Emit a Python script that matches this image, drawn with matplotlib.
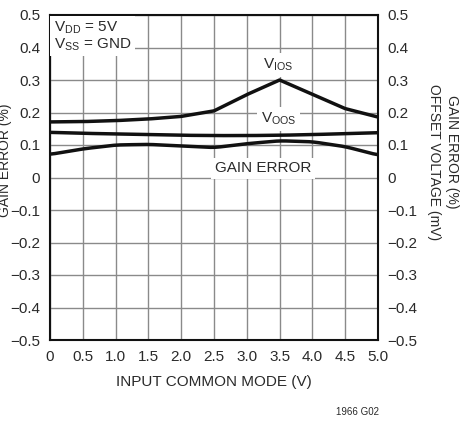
import numpy as np
import matplotlib
matplotlib.use("Agg")
import matplotlib.pyplot as plt

plt.rcParams['font.family'] = ['Liberation Sans', 'DejaVu Sans']

# input common mode (V)
vcm = [0, 0.5, 1.0, 1.5, 2.0, 2.5, 3.0, 3.5, 4.0, 4.5, 5.0]
# offset voltages (mV) and gain error (%)
vios = [0.171, 0.172, 0.175, 0.180, 0.188, 0.205, 0.255, 0.300, 0.256, 0.212, 0.186]
voos = [0.139, 0.136, 0.134, 0.132, 0.130, 0.129, 0.129, 0.130, 0.132, 0.135, 0.138]
gain = [0.071, 0.088, 0.100, 0.102, 0.097, 0.092, 0.104, 0.113, 0.110, 0.095, 0.069]

xticks = [0, 0.5, 1.0, 1.5, 2.0, 2.5, 3.0, 3.5, 4.0, 4.5, 5.0]
xlabels = ['0', '0.5', '1.0', '1.5', '2.0', '2.5', '3.0', '3.5', '4.0', '4.5', '5.0']
yticks = [-0.5, -0.4, -0.3, -0.2, -0.1, 0, 0.1, 0.2, 0.3, 0.4, 0.5]
ylabels = ['\u22120.5', '\u22120.4', '\u22120.3', '\u22120.2', '\u22120.1', '0',
           '0.1', '0.2', '0.3', '0.4', '0.5']

txt = '#2a2a2a'

fig = plt.figure(figsize=(4.62, 4.21), dpi=100)
ax = fig.add_axes([50/462, 81/421, 328/462, 325/421])

for x in xticks:
    ax.axvline(x, color='#8a8a8a', lw=1, zorder=1)
for y in yticks:
    ax.axhline(y, color='#8a8a8a', lw=1, zorder=1)

xs = np.linspace(0, 5, 201)
def smooth(y):
    yy = np.interp(xs, vcm, y)
    k = np.ones(9) / 9
    pad = np.pad(yy, 4, mode='edge')
    return np.convolve(pad, k, mode='valid')

ax.plot(xs, np.interp(xs, vcm, vios), color='#111111', lw=2.5, zorder=3)
ax.plot(xs, smooth(voos), color='#111111', lw=2.5, zorder=3)
ax.plot(xs, smooth(gain), color='#111111', lw=2.5, zorder=3)

ax.set_xlim(0, 5)
ax.set_ylim(-0.5, 0.5)
ax.set_xticks(xticks)
ax.set_xticklabels(xlabels)
ax.set_yticks(yticks)
ax.set_yticklabels(ylabels)
ax.tick_params(length=0, labelsize=11, pad=7, colors=txt)
for s in ax.spines.values():
    s.set_linewidth(1.5)
    s.set_color('#111111')

ax2 = ax.twinx()
ax2.set_ylim(-0.5, 0.5)
ax2.set_yticks(yticks)
ax2.set_yticklabels(ylabels)
ax2.tick_params(length=0, labelsize=11, pad=7, colors=txt)
for s in ax2.spines.values():
    s.set_visible(False)

ax.set_xlabel('INPUT COMMON MODE (V)', fontsize=11, color=txt, labelpad=8)

box = dict(facecolor='white', edgecolor='none', pad=2.5)
ax.text(0.06, 0.487, 'V$_{\\mathregular{DD}}$ = 5V\nV$_{\\mathregular{SS}}$ = GND',
        fontsize=11, va='top', ha='left', bbox=box, zorder=4, color=txt,
        linespacing=1.0)
ax.text(3.48, 0.346, 'V$_{\\mathregular{IOS}}$', fontsize=11, ha='center', va='center',
        bbox=box, zorder=4, color=txt)
ax.text(3.48, 0.18, 'V$_{\\mathregular{OOS}}$', fontsize=11, ha='center', va='center',
        bbox=box, zorder=4, color=txt)
ax.text(3.25, 0.029, 'GAIN ERROR', fontsize=11, ha='center', va='center',
        bbox=box, zorder=4, color=txt)

fig.text(434/462, 1 - 162/421, 'OFFSET VOLTAGE (mV)', rotation=-90, fontsize=10,
         ha='center', va='center', color=txt)
fig.text(452/462, 1 - 152/421, 'GAIN ERROR (%)', rotation=-90, fontsize=10,
         ha='center', va='center', color=txt)
fig.text(5/462, 1 - 160/421, 'GAIN ERROR (%)', rotation=90, fontsize=10,
         ha='center', va='center', color=txt)
fig.text(357/462, 1 - 412/421, '1966 G02', fontsize=7, ha='center', va='center',
         color=txt)

fig.savefig('out.png', dpi=100)
